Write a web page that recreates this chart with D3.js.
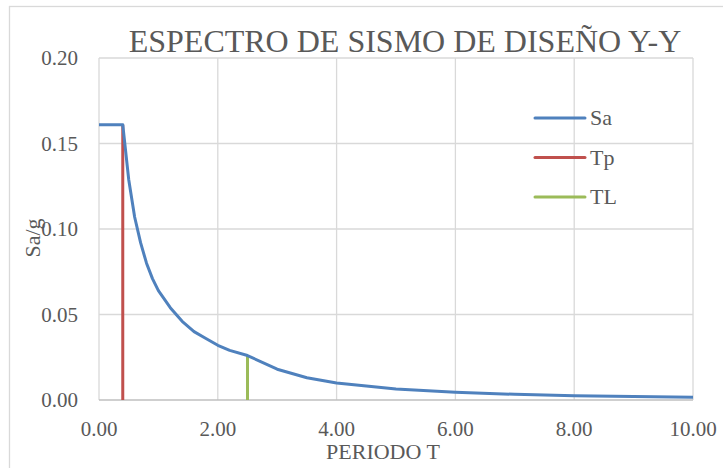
<!DOCTYPE html>
<html>
<head>
<meta charset="utf-8">
<script src="https://cdn.jsdelivr.net/npm/d3@7"></script>
<style>
  body { margin: 0; background: #fff; }
  text { font-family: "Liberation Serif", "DejaVu Serif", serif; fill: #595959; }
  .grid line { stroke: #d9d9d9; stroke-width: 1.3; }
</style>
</head>
<body>
<svg id="chart"></svg>
<script>
// periodo T (s) and Sa/g
const periods = [0, 0.4, 0.5, 0.6, 0.7, 0.8, 0.9, 1.0, 1.2, 1.4, 1.6, 1.8, 2.0, 2.2, 2.5,
                 3.0, 3.5, 4.0, 5.0, 6.0, 7.0, 8.0, 9.0, 10.0];
const saValues = [0.161, 0.161, 0.129, 0.107, 0.092, 0.080, 0.071, 0.064, 0.054, 0.046, 0.040, 0.036, 0.032, 0.029, 0.026,
                  0.018, 0.013, 0.010, 0.0064, 0.0045, 0.0033, 0.0025, 0.0020, 0.0016];
const tpLine = [[0.4, 0], [0.4, 0.161]];
const tlLine = [[2.5, 0], [2.5, 0.026]];
const xTicks = [0, 2, 4, 6, 8, 10];
const yTicks = [0, 0.05, 0.10, 0.15, 0.20];
const seriesNames = ['Sa', 'Tp', 'TL'];
const seriesColors = ['#4f81bd', '#c0504d', '#9bbb59'];

const width = 723, height = 468;
const margin = { top: 58, right: 30, bottom: 68, left: 99 };

const svg = d3.select('#chart').attr('width', width).attr('height', height);

// outer chart border
svg.append('rect')
    .attr('x', 9.5).attr('y', 6.5)
    .attr('width', width).attr('height', height)
    .attr('fill', 'none').attr('stroke', '#d9d9d9').attr('stroke-width', 1.3);

const chart = svg.append('g').attr('transform', `translate(${margin.left},${margin.top})`);
const w = 693 - margin.left;
const h = 400 - margin.top;

const x = d3.scaleLinear().domain([0, 10]).range([0, w]);
const y = d3.scaleLinear().domain([0, 0.20]).range([h, 0]);

// gridlines
chart.append('g').attr('class', 'grid')
    .selectAll('line').data(xTicks).join('line')
    .attr('x1', d => x(d)).attr('x2', d => x(d))
    .attr('y1', 0).attr('y2', h);
chart.append('g').attr('class', 'grid')
    .selectAll('line').data(yTicks.filter(d => d > 0)).join('line')
    .attr('x1', 0).attr('x2', w)
    .attr('y1', d => y(d)).attr('y2', d => y(d));

// x axis line
chart.append('line')
    .attr('x1', 0).attr('x2', w).attr('y1', h).attr('y2', h)
    .attr('stroke', '#bfbfbf').attr('stroke-width', 1.5);

// tick labels
chart.selectAll('.xlab').data(xTicks).join('text')
    .attr('class', 'xlab')
    .attr('x', d => x(d)).attr('y', h + 36)
    .attr('text-anchor', 'middle')
    .style('font-size', '21px')
    .text(d => d.toFixed(2));
chart.selectAll('.ylab').data(yTicks).join('text')
    .attr('class', 'ylab')
    .attr('x', -21).attr('y', d => y(d) + 7)
    .attr('text-anchor', 'end')
    .style('font-size', '21px')
    .text(d => d.toFixed(2));

// series
const line = d3.line().x(d => x(d[0])).y(d => y(d[1]));
const saData = periods.map((t, i) => [t, saValues[i]]);

chart.append('path').datum(tpLine)
    .attr('d', line).attr('fill', 'none')
    .attr('stroke', seriesColors[1]).attr('stroke-width', 3);
chart.append('path').datum(tlLine)
    .attr('d', line).attr('fill', 'none')
    .attr('stroke', seriesColors[2]).attr('stroke-width', 3);
chart.append('path').datum(saData)
    .attr('d', line).attr('fill', 'none')
    .attr('stroke', seriesColors[0]).attr('stroke-width', 3)
    .attr('stroke-linejoin', 'round');

// title
svg.append('text')
    .attr('x', 405).attr('y', 52)
    .attr('text-anchor', 'middle')
    .style('font-size', '32px')
    .text('ESPECTRO DE SISMO DE DISEÑO Y-Y');

// axis titles
svg.append('text')
    .attr('x', 383).attr('y', 459)
    .attr('text-anchor', 'middle')
    .style('font-size', '22px')
    .text('PERIODO T');

const yTitle = svg.append('text')
    .attr('x', 33).attr('y', 238)
    .attr('text-anchor', 'middle')
    .attr('dy', 7)
    .style('font-size', '22px')
    .text('Sa/g');
yTitle.attr('transform', `rotate(-90, 33, 238)`);

// legend
const legend = svg.append('g').attr('transform', 'translate(535,118)');
const item = legend.selectAll('g').data(seriesNames).join('g')
    .attr('transform', (d, i) => `translate(0,${i * 39.5})`);
item.append('line')
    .attr('x1', 0).attr('x2', 50).attr('y1', 0).attr('y2', 0)
    .attr('stroke', (d, i) => seriesColors[i]).attr('stroke-width', 3)
    .attr('stroke-linecap', 'round');
item.append('text')
    .attr('x', 55).attr('y', 7)
    .style('font-size', '22px')
    .text(d => d);
</script>
</body>
</html>
